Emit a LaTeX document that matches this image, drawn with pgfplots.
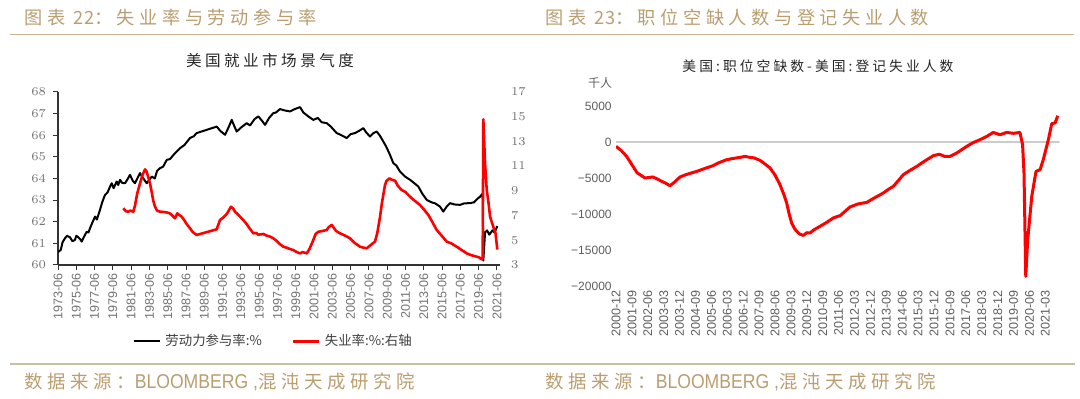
\documentclass[border=0pt]{standalone}
\usepackage{fontspec}
\usepackage{pgfplots}
\pgfplotsset{compat=1.18}
\setmainfont{Liberation Sans}
\newfontfamily\cjk{Noto Sans CJK SC}
\newfontfamily\cjkH[LetterSpace=25]{Noto Sans CJK SC}
\newfontfamily\cjkT[LetterSpace=22]{Noto Sans CJK SC}
\newfontfamily\narrow[FakeStretch=0.88]{Liberation Sans}
\newfontfamily\pop{Poppins}
\definecolor{tantext}{RGB}{187,158,112}
\definecolor{tanline}{RGB}{205,180,140}
\definecolor{footline}{RGB}{200,192,165}
\definecolor{lbl}{RGB}{115,115,115}
\definecolor{lblR}{RGB}{95,95,95}
\newcommand{\foot}{\cjkH\fontsize{9.2}{10}\selectfont 数据来源：{\narrow\fontsize{10}{10}\selectfont BLOOMBERG ,}混沌天成研究院}
\begin{document}
\begin{tikzpicture}
\useasboundingbox[fill=white] (0,0) rectangle (540pt,199.5pt);
% headers
\node[anchor=west, text=tantext, inner sep=0pt] at (12pt,190.5pt) {\cjkH\fontsize{9.1}{10}\selectfont 图表 {\cjk 22}：失业率与劳动参与率};
\node[anchor=west, text=tantext, inner sep=0pt] at (272.5pt,190.5pt) {\cjkH\fontsize{9.1}{10}\selectfont 图表 {\cjk 23}：职位空缺人数与登记失业人数};
\draw[tanline, line width=0.7pt] (5pt,182.3pt) -- (537pt,182.3pt);
% footer
\draw[footline, line width=1pt] (5pt,17.5pt) -- (537.5pt,17.5pt);
\node[anchor=west, text=tantext, inner sep=0pt] at (12pt,8.5pt) {\foot};
\node[anchor=west, text=tantext, inner sep=0pt] at (272.5pt,8.5pt) {\foot};
% chart titles
\node[inner sep=0pt, text=black!85] at (135pt,169pt) {\cjkT\fontsize{7.8}{9}\selectfont 美国就业市场景气度};
\node[inner sep=0pt, text=black!85] at (409pt,166.5pt) {\cjkT\fontsize{6.9}{8}\selectfont 美国:职位空缺数-美国:登记失业人数};
\node[inner sep=0pt, text=lblR] at (300pt,158pt) {\cjk\fontsize{6}{7}\selectfont 千人};

% ---------- left chart, primary axis ----------
\begin{axis}[
  at={(29pt,67pt)}, anchor=south west,
  scale only axis, width=221pt, height=86.5pt,
  xmin=0, xmax=580, ymin=60, ymax=68,
  axis y line*=left, axis x line*=bottom,
  ytick={60,61,...,68},
  xtick={0,24,...,576},
  xticklabels={1973-06,1975-06,1977-06,1979-06,1981-06,1983-06,1985-06,1987-06,1989-06,1991-06,1993-06,1995-06,1997-06,1999-06,2001-06,2003-06,2005-06,2007-06,2009-06,2011-06,2013-06,2015-06,2017-06,2019-06,2021-06},
  x tick label style={rotate=90, anchor=east, font=\fontsize{6.3}{7}\selectfont, text=lbl, inner sep=1.5pt},
  y tick label style={font=\pop\fontsize{6}{7}\selectfont, text=lbl},
  tick align=outside, major tick length=2.5pt,
  tick style={black!80, line width=0.5pt},
  axis line style={black!80, line width=0.6pt},
  legend style={draw=none, fill=none, at={(0.49,-0.44)}, anchor=center,
    font=\cjk\fontsize{6.7}{8}\selectfont, text=black!75, legend columns=2,
    /tikz/every even column/.append style={column sep=13pt}},
  legend image code/.code={\draw[#1] (0pt,0pt) -- (13pt,0pt);},
]
\addplot[black, line width=1pt, line join=round] coordinates {
(0,60.60) (3.5,60.69) (6,61.05) (9.2,61.24) (12,61.35) (15.7,61.28) (19,61.10) (22.3,61.16) (24,61.35) (26.6,61.28)
(29,61.20) (31.1,61.08) (34,61.30) (37.7,61.54) (40,61.50) (42,61.70) (45,61.95) (48.6,62.24) (51,62.10) (55.1,62.55)
(58,62.90) (61.7,63.24) (65,63.35) (68.2,63.62) (70.5,63.78) (73,63.55) (77,63.86) (79,63.70) (81.4,63.94) (84,63.80)
(87.9,63.78) (91,63.95) (94.5,64.17) (98,63.90) (101,63.78) (104,64.00) (107.6,64.25) (111,64.05) (116.4,63.78) (120,63.95)
(123,64.09) (127,64.00) (130,64.35) (133.9,64.48) (138,64.55) (142.7,64.86) (147,64.90) (153,65.15)
(160.1,65.40) (166,65.55) (173.2,65.87) (178,65.95) (182,66.10) (208.3,66.40) (213,66.20) (219.2,66.02) (223,66.30) (228,66.71)
(231,66.45) (234.5,66.17) (240,66.35) (247.6,66.56) (252,66.45) (258,66.75) (262.9,66.87) (267,66.70) (271.7,66.48) (277,66.80)
(282.5,67.02) (286,67.05) (291.3,67.21) (297,67.15) (304.5,67.10) (310,67.20) (317.6,67.30) (322,67.05) (328.5,66.87) (335,66.71)
(341,66.80) (346,66.60) (352.6,66.56) (358,66.40) (365.7,66.10) (372,66.00) (378.9,65.87) (384,66.05) (389.8,66.10) (395,66.20)
(400.7,66.33) (404,66.15) (409.4,65.94) (414,66.10) (418.2,66.17) (422,66.00) (426.9,65.71) (431,65.45) (435.7,65.09) (440,64.71)
(444,64.60) (448.8,64.32) (455,64.10) (461.9,63.94) (467,63.80) (472.8,63.63) (478,63.30) (483.9,63.01) (490,62.90) (495,62.85)
(501.3,62.70) (505.6,62.47) (510,62.70) (514.4,62.86) (520,62.80) (527.6,62.78) (533,62.85) (540.7,62.86) (546,62.90) (550,63.05)
(553.8,63.16) (557.3,63.30) (558.1,60.20) (560.4,61.50) (563,61.60) (566,61.40) (570,61.60) (573,61.50) (576.5,61.80)
};
\addlegendentry{劳动力参与率:\%}
\addlegendimage{red, line width=1.5pt}
\addlegendentry{失业率:\%:右轴}
\end{axis}

% ---------- left chart, secondary axis ----------
\begin{axis}[
  at={(29pt,67pt)}, anchor=south west,
  scale only axis, width=221pt, height=86.5pt,
  xmin=0, xmax=580, ymin=3, ymax=17,
  axis y line*=right, axis x line=none,
  ytick={3,5,...,17},
  y axis line style={draw=none},
  major tick length=0pt,
  y tick label style={font=\pop\fontsize{6}{7}\selectfont, text=lbl, anchor=west, xshift=2pt},
]
\addplot[red, line width=1.3pt, line join=round] coordinates {
(85.7,7.59) (89,7.35) (92.3,7.31) (95,7.40) (98.8,7.31) (101,7.80) (104,8.80) (107.6,9.60) (111,10.30)
(114.2,10.74) (116,10.60) (118.5,10.10) (120.7,9.60) (123,8.90) (125,8.20) (127.3,7.72) (130,7.40) (133.9,7.31) (138,7.30) (142.7,7.25)
(146,7.20) (149.2,7.05) (153.5,6.78) (156.6,7.18) (159,7.05) (162.3,6.91) (166,6.60) (169,6.30) (173.2,5.97) (177,5.65)
(182,5.43) (208.3,5.89) (210,6.20) (212.6,6.64) (217,6.85) (221.4,7.13) (224,7.40) (227,7.72) (230,7.55) (232.3,7.31)
(236,7.10) (239,6.90) (243.2,6.64) (247,6.35) (251,6.00) (256.3,5.56) (260,5.60) (263,5.45) (269.4,5.51) (273,5.40)
(278,5.30) (282.5,5.16) (287,4.95) (291,4.70) (295.7,4.48) (300,4.40) (304,4.30) (308.8,4.21) (313,4.05) (317.6,3.94)
(321,4.05) (326.4,3.94) (330,4.30) (335,5.02) (338,5.50) (341.6,5.69) (347,5.75) (352.6,5.83) (355,6.05) (359.2,6.24)
(362,6.00) (365,5.75) (370.1,5.56) (376,5.40) (383.2,5.16) (389,4.80) (396.3,4.48) (401,4.40) (405.1,4.35) (410,4.60)
(416,4.89) (419,5.60) (422.6,6.91) (425,8.00) (429.1,9.47) (431,9.80) (434.8,10.01) (438,9.90) (442.3,9.82) (446,9.40)
(451,9.07) (456,8.90) (461.9,8.53) (468,8.20) (475.1,7.85) (480,7.50) (486,7.05) (491,6.50) (497,5.83) (503,5.40)
(510.1,4.89) (516,4.75) (523.2,4.48) (530,4.20) (536.4,3.94) (542,3.80) (549.5,3.67) (553,3.60) (556,3.46) (557.3,3.60)
(558.1,14.79) (560.4,11.20) (562.6,9.07) (565,8.00) (567,6.90) (571.2,6.10) (574,5.60) (576.5,4.25)
};
\end{axis}

% ---------- right chart ----------
\begin{axis}[
  at={(308pt,56.5pt)}, anchor=south west,
  scale only axis, width=221.75pt, height=90pt,
  xmin=0, xmax=251, ymin=-20000, ymax=5000,
  axis line style={draw=none},
  major tick length=0pt,
  scaled y ticks=false,
  ytick={-20000,-15000,-10000,-5000,0,5000},
  yticklabels={−20000,−15000,−10000,−5000,0,5000},
  xtick={0,9,...,243},
  xticklabels={2000-12,2001-09,2002-06,2003-03,2003-12,2004-09,2005-06,2006-03,2006-12,2007-09,2008-06,2009-03,2009-12,2010-09,2011-06,2012-03,2012-12,2013-09,2014-06,2015-03,2015-12,2016-09,2017-06,2018-03,2018-12,2019-09,2020-06,2021-03},
  x tick label style={rotate=90, anchor=east, font=\fontsize{6.3}{7}\selectfont, text=lblR, inner sep=2pt},
  y tick label style={font=\fontsize{6}{7}\selectfont, text=lblR, inner sep=2pt},
]
\draw[black!20, line width=0.6pt] (axis cs:0,0) -- (axis cs:251,0);
\addplot[red, line width=1.5pt, line join=round] coordinates {
(0,-610) (3,-1200) (6,-2000) (9,-3150) (12,-4300) (14,-4600) (16.4,-5000) (18,-4950) (20.9,-4860) (23,-5100)
(25.9,-5470) (28,-5700) (30.6,-6070) (33,-5600) (36.2,-4860) (40,-4500) (45.7,-4080) (50,-3700) (54.9,-3290) (58,-2900)
(62.6,-2460) (66,-2300) (70.2,-2140) (73,-2000) (75.8,-2140) (78,-2200) (81.5,-2550) (84,-3000) (87.2,-3610) (90,-4600)
(92.8,-5930) (95,-7300) (96.6,-8470) (98,-10000) (99.4,-11250) (101,-12000) (102.3,-12410) (104,-12800) (106,-12970) (108,-12600)
(109.8,-12640) (112,-12200) (115.4,-11720) (119,-11200) (123,-10550) (127,-10200) (132.4,-9030) (137,-8600) (141.9,-8390) (146,-7800)
(151.3,-7080) (154,-6600) (156.9,-6170) (160,-5300) (162.6,-4540) (166,-4000) (170.2,-3390) (175,-2600) (179.6,-1900) (183,-1700)
(186,-2000) (189,-2000) (193,-1500) (198.5,-610) (202,-100) (206,320) (210,800) (213.5,1330) (217.3,1010) (221.1,1330)
(225,1200) (228.6,1330) (230.1,-375) (230.9,-4300) (231.9,-18670) (233,-13570) (235.3,-7550) (237.7,-4080) (240,-3850) (241.8,-2460)
(244.7,320) (246.6,2540) (248.5,2640) (250,3650)
};
\end{axis}
\end{tikzpicture}
\end{document}
